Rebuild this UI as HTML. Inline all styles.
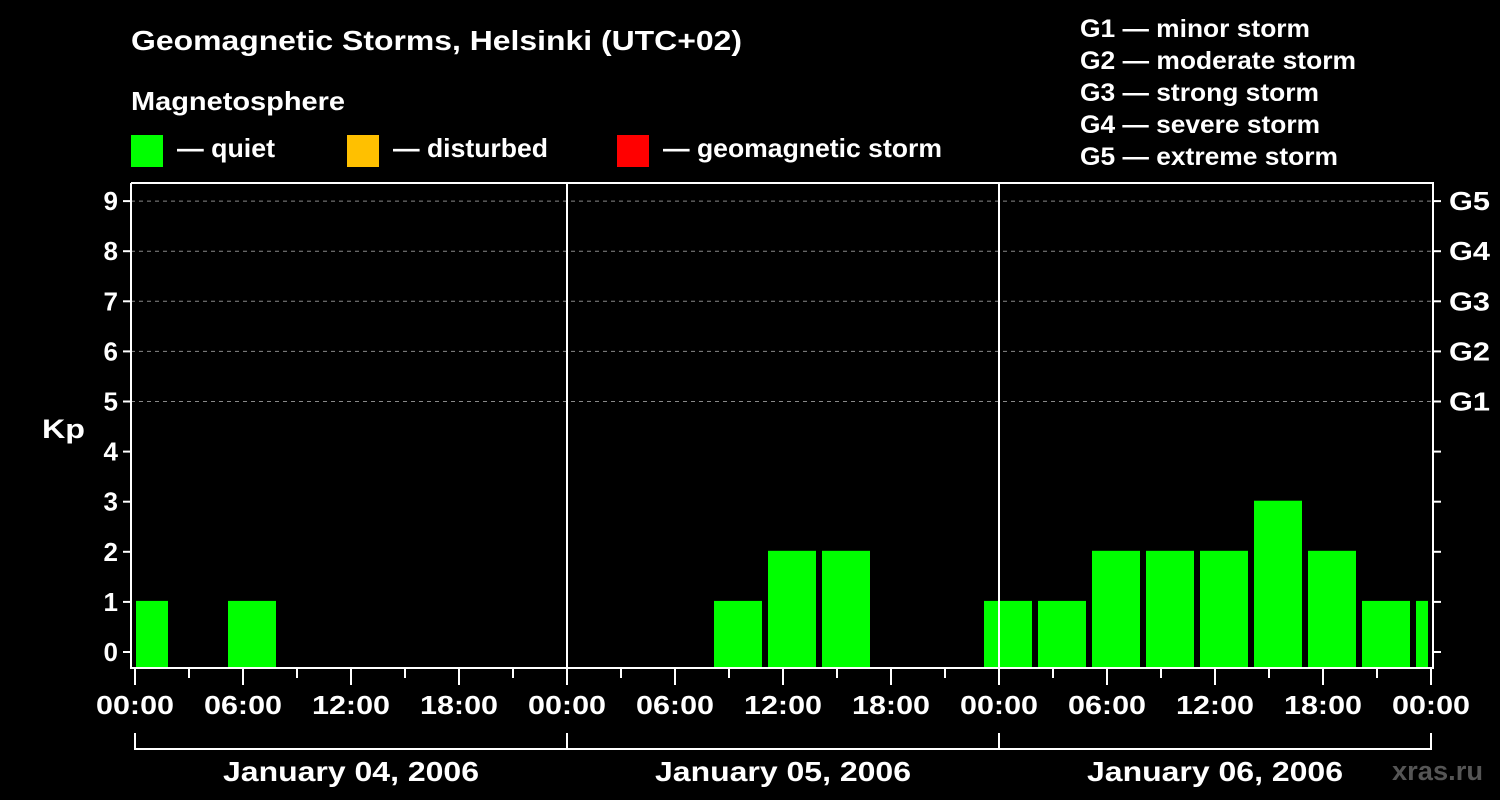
<!DOCTYPE html>
<html><head><meta charset="utf-8"><style>
html,body{margin:0;background:#000;width:1500px;height:800px;overflow:hidden}
svg text{font-family:"Liberation Sans",Arial,sans-serif;font-weight:bold;fill:#fff}
</style></head><body>
<svg id="chart" width="1500" height="800" xmlns="http://www.w3.org/2000/svg" font-family="Liberation Sans, Arial, sans-serif" font-weight="bold">
<text x="131" y="50" font-size="28" textLength="611" lengthAdjust="spacingAndGlyphs">Geomagnetic Storms, Helsinki (UTC+02)</text>
<text x="131" y="110" font-size="26" textLength="214" lengthAdjust="spacingAndGlyphs">Magnetosphere</text>
<g><rect x="131" y="135" width="32" height="32" fill="#00ff00"/><text x="177" y="157" font-size="26" textLength="98" lengthAdjust="spacingAndGlyphs">— quiet</text></g>
<g><rect x="347" y="135" width="32" height="32" fill="#ffc000"/><text x="393" y="157" font-size="26" textLength="155" lengthAdjust="spacingAndGlyphs">— disturbed</text></g>
<g><rect x="617" y="135" width="32" height="32" fill="#ff0000"/><text x="663" y="157" font-size="26" textLength="279" lengthAdjust="spacingAndGlyphs">— geomagnetic storm</text></g>
<g font-size="25">
<text x="1080" y="37" textLength="230" lengthAdjust="spacingAndGlyphs">G1 — minor storm</text>
<text x="1080" y="69" textLength="276" lengthAdjust="spacingAndGlyphs">G2 — moderate storm</text>
<text x="1080" y="101" textLength="239" lengthAdjust="spacingAndGlyphs">G3 — strong storm</text>
<text x="1080" y="133" textLength="240" lengthAdjust="spacingAndGlyphs">G4 — severe storm</text>
<text x="1080" y="165" textLength="258" lengthAdjust="spacingAndGlyphs">G5 — extreme storm</text>
</g>
<text x="42" y="438" font-size="27" textLength="43" lengthAdjust="spacingAndGlyphs">Kp</text>
<text x="1392" y="780" font-size="27" style="fill:#555" textLength="91" lengthAdjust="spacingAndGlyphs">xras.ru</text>
<g id="grid"></g><g id="bars"></g><g id="axes"></g>
</svg>
<script>
const slotStartHours=[-1,2,5,8,11,14,17,20,23,26,29,32,35,38,41,44,47,50,53,56,59,62,65,68,71];
const kpValues=[1,0,1,0,0,0,0,0,0,0,0,1,2,2,0,0,1,1,2,2,2,3,2,1,1];
const yTicks=[0,1,2,3,4,5,6,7,8,9];
const gLabels=["G1","G2","G3","G4","G5"];
const timeLabels=["00:00","06:00","12:00","18:00"];
const dayLabels=["January 04, 2006","January 05, 2006","January 06, 2006"];
(function(){
const NS="http://www.w3.org/2000/svg";
const x0=135,pxH=18,totalH=72,pLeft=131,pRight=1433,pTop=183,pBottom=668;
const X=h=>x0+h*pxH;
const Y=v=>652-v*50.1;
function mk(p,tag,a){const e=document.createElementNS(NS,tag);for(const k in a)e.setAttribute(k,a[k]);p.appendChild(e);return e;}
const grid=document.getElementById('grid'),bars=document.getElementById('bars'),axes=document.getElementById('axes');
yTicks.forEach(v=>{
  if(v>=5){const l=mk(grid,'line',{x1:pLeft,x2:pRight,y1:Y(v),y2:Y(v),stroke:'#888','stroke-dasharray':'4,4','stroke-width':1});
  
  }
  mk(axes,'line',{x1:pLeft-8,x2:pLeft,y1:Y(v),y2:Y(v),stroke:'#fff','stroke-width':2});
  mk(axes,'line',{x1:pRight,x2:pRight+8,y1:Y(v),y2:Y(v),stroke:'#fff','stroke-width':2});
  const t=mk(axes,'text',{x:pLeft-13,y:Y(v)+9,'font-size':26,'text-anchor':'end'});t.textContent=v;
  
  
});
gLabels.forEach((g,i)=>{const t=mk(axes,'text',{x:1449,y:Y(5+i)+9,'font-size':26,textLength:41,lengthAdjust:'spacingAndGlyphs'});t.textContent=g;
  
  });
slotStartHours.forEach((h,i)=>{
  const v=kpValues[i];if(v<=0)return;
  let a=X(h)+3,b=X(h+3)-3;a=Math.max(a,X(0)+1);b=Math.min(b,X(totalH)-3);
  const r=mk(bars,'rect',{x:a,y:Y(v)-1,width:b-a,height:pBottom-Y(v)+1,fill:v>=5?'#ff0000':v>=4?'#ffc000':'#00ff00'});
  
  
});
const f=mk(axes,'path',{d:`M${pLeft},${pTop}V${pBottom}H${pRight}V${pTop}H${pLeft}`,fill:'none',stroke:'#fff','stroke-width':2});


[1,2].forEach(d=>mk(axes,'line',{x1:X(24*d),x2:X(24*d),y1:pTop,y2:pBottom,stroke:'#fff','stroke-width':2}));
for(let h=0;h<=totalH;h+=3){const major=h%6===0;
  mk(axes,'line',{x1:X(h),x2:X(h),y1:pBottom,y2:pBottom+(major?17:10),stroke:'#fff','stroke-width':2});
  if(major){const t=mk(axes,'text',{x:X(h),y:714,'font-size':26,'text-anchor':'middle',textLength:78,lengthAdjust:'spacingAndGlyphs'});t.textContent=timeLabels[(h/6)%4];
  
  }}
mk(axes,'path',{d:`M${X(0)},733V749H${X(72)}V733M${X(24)},733V749M${X(48)},733V749`,fill:'none',stroke:'#fff','stroke-width':2});
dayLabels.forEach((d,i)=>{const t=mk(axes,'text',{x:X(24*i+12),y:781,'font-size':28,'text-anchor':'middle',textLength:256,lengthAdjust:'spacingAndGlyphs'});t.textContent=d;
  
  });
})();
</script>
</body></html>
